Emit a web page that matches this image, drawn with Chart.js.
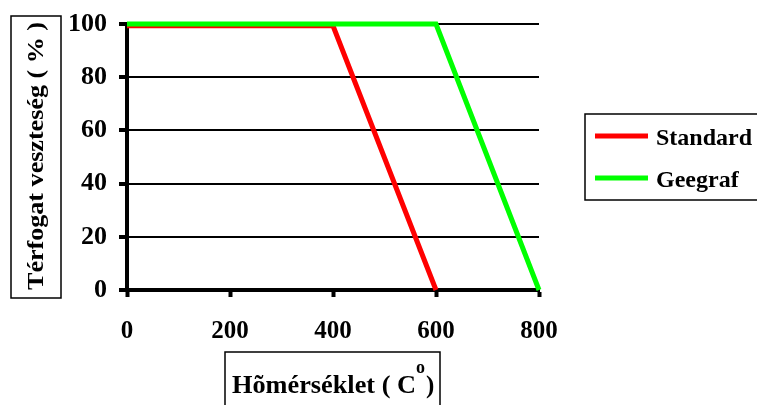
<!DOCTYPE html>
<html lang="hu">
  <head>
    <meta charset="UTF-8" />
    <title>Térfogat veszteség</title>
    <script src="https://cdn.jsdelivr.net/npm/chart.js"></script>
    <style>
      html, body { margin: 0; padding: 0; background: #fff; }
      #wrap { width: 757px; height: 405px; }
    </style>
  </head>
  <body>
    <div id="wrap"><canvas id="chart"></canvas></div>
    <script>
      // Adatok
      const seriesNames = ["Standard", "Geegraf"];
      const tempStandard = [0, 400, 600];
      const lossStandard = [99.3, 99.3, 0];
      const tempGeegraf = [0, 600, 800];
      const lossGeegraf = [100, 100, 0];
      const xTicks = [0, 200, 400, 600, 800];
      const yTicks = [0, 20, 40, 60, 80, 100];
      const xTitle = "Hõmérséklet ( C";
      const yTitle = "Térfogat veszteség ( % )";

      const serif = "'Liberation Serif', 'Times New Roman', serif";

      function toPoints(xs, ys) {
        return xs.map((x, i) => ({ x: x, y: ys[i] }));
      }

      // szöveg vízszintesen nyújtva a kívánt szélességre
      function fitText(c, text, x, y, width) {
        const w = c.measureText(text).width;
        c.save();
        c.translate(x, y);
        c.scale(width / w, 1);
        c.fillText(text, 0, 0);
        c.restore();
      }

      // Tengelycímek dobozban + jelmagyarázat
      const boxes = {
        id: "boxes",
        afterDraw(chart) {
          const c = chart.ctx;
          c.save();
          c.strokeStyle = "#000";
          c.lineWidth = 1.5;
          c.fillStyle = "#000";
          c.textAlign = "left";

          // y tengely címe
          c.strokeRect(11, 16, 50, 282);
          c.save();
          c.translate(43, 290);
          c.rotate(-Math.PI / 2);
          c.font = "bold 24px " + serif;
          fitText(c, yTitle, 0, 0, 268);
          c.restore();

          // x tengely címe
          c.strokeRect(225, 352, 215, 60);
          c.font = "bold 25px " + serif;
          fitText(c, xTitle, 232, 393, 184);
          c.font = "bold 18px " + serif;
          c.fillText("o", 416, 373);
          c.font = "bold 25px " + serif;
          c.fillText(")", 426, 393);

          // jelmagyarázat
          c.strokeRect(585, 114, 180, 86);
          const rows = [136, 178];
          chart.data.datasets
            .slice()
            .sort((a, b) => seriesNames.indexOf(a.label) - seriesNames.indexOf(b.label))
            .forEach((ds, i) => {
              c.strokeStyle = ds.borderColor;
              c.lineWidth = 5;
              c.beginPath();
              c.moveTo(595, rows[i]);
              c.lineTo(648, rows[i]);
              c.stroke();
              c.font = "bold 24px " + serif;
              c.fillStyle = "#000";
              c.fillText(ds.label, 656, rows[i] + 9);
            });
          c.restore();
        },
      };

      const ctx = document.getElementById("chart").getContext("2d");
      const chart = new Chart(ctx, {
        type: "line",
        data: {
          datasets: [
            {
              label: seriesNames[0],
              data: toPoints(tempStandard, lossStandard),
              borderColor: "#ff0000",
              borderWidth: 5,
              pointRadius: 0,
              order: 2,
              clip: false,
            },
            {
              label: seriesNames[1],
              data: toPoints(tempGeegraf, lossGeegraf),
              borderColor: "#00ff00",
              borderWidth: 5,
              pointRadius: 0,
              order: 1,
              clip: false,
            },
          ],
        },
        options: {
          responsive: true,
          maintainAspectRatio: false,
          animation: false,
          events: [],
          layout: { padding: { top: 24, right: 218, left: 0, bottom: 0 } },
          plugins: {
            legend: { display: false },
            tooltip: { enabled: false },
          },
          scales: {
            x: {
              type: "linear",
              min: 0,
              max: 800,
              afterFit: (s) => {
                s.height = 115;
                s.paddingLeft = 0;
                s.paddingRight = 0;
              },
              afterBuildTicks: (s) => { s.ticks = xTicks.map((v) => ({ value: v })); },
              border: { color: "#000", width: 4 },
              grid: {
                drawOnChartArea: false,
                drawTicks: true,
                tickLength: 7,
                tickWidth: 4,
                tickColor: "#000",
              },
              ticks: {
                color: "#000",
                padding: 20,
                maxRotation: 0,
                font: { family: serif, size: 25, weight: "bold" },
              },
            },
            y: {
              min: 0,
              max: 100,
              afterFit: (s) => {
                s.width = 127;
                s.paddingTop = 0;
                s.paddingBottom = 0;
              },
              afterBuildTicks: (s) => { s.ticks = yTicks.map((v) => ({ value: v })); },
              border: { color: "#000", width: 4 },
              grid: {
                color: "#000",
                lineWidth: 2,
                drawTicks: true,
                tickLength: 8,
                tickWidth: 4,
                tickColor: "#000",
              },
              ticks: {
                color: "#000",
                padding: 12,
                font: { family: serif, size: 26, weight: "bold" },
              },
            },
          },
        },
        plugins: [boxes],
      });
    </script>
  </body>
</html>
